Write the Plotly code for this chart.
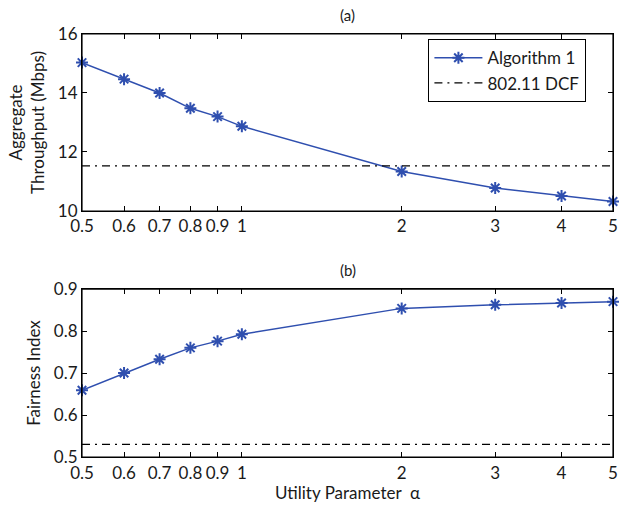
import math
import plotly.graph_objects as go

alpha = [0.5, 0.6, 0.7, 0.8, 0.9, 1, 2, 3, 4, 5]
tick_labels = ["0.5", "0.6", "0.7", "0.8", "0.9", "1", "2", "3", "4", "5"]
throughput_alg1 = [15.03, 14.47, 14.0, 13.48, 13.2, 12.87, 11.34, 10.78, 10.51, 10.32]
throughput_dcf = 11.53
fairness_alg1 = [0.659, 0.700, 0.733, 0.760, 0.776, 0.7925, 0.854, 0.8625, 0.867, 0.870]
fairness_dcf = 0.530

BLUE = "#2F4FAF"
FONT = "Lato"
TXT = "#1a1a1a"

fig = go.Figure()

marker = dict(symbol="asterisk-open", size=10, color=BLUE, line=dict(color=BLUE, width=2))

fig.add_trace(go.Scatter(x=alpha, y=throughput_alg1, mode="lines+markers", name="Algorithm 1",
                         line=dict(color=BLUE, width=1.5), marker=marker,
                         xaxis="x", yaxis="y", cliponaxis=False))
fig.add_trace(go.Scatter(x=[alpha[0], alpha[-1]], y=[throughput_dcf, throughput_dcf], mode="lines",
                         name="802.11 DCF", line=dict(color="black", width=1.2, dash="8px,5px,2px,5px"),
                         xaxis="x", yaxis="y"))
fig.add_trace(go.Scatter(x=alpha, y=fairness_alg1, mode="lines+markers", showlegend=False,
                         line=dict(color=BLUE, width=1.5), marker=marker,
                         xaxis="x2", yaxis="y2", cliponaxis=False))
fig.add_trace(go.Scatter(x=[alpha[0], alpha[-1]], y=[fairness_dcf, fairness_dcf], mode="lines",
                         showlegend=False, line=dict(color="black", width=1.2, dash="8px,5px,2px,5px"),
                         xaxis="x2", yaxis="y2"))

axis_common = dict(showline=True, linecolor="black", linewidth=1.2, mirror="ticks",
                   ticks="inside", ticklen=5, tickcolor="black", showgrid=False, zeroline=False,
                   automargin=False, tickfont=dict(family=FONT, size=17, color=TXT))

xrange = [math.log10(alpha[0]) - 1e-6, math.log10(alpha[-1]) + 1e-6]
xa = dict(type="log", range=xrange, tickvals=alpha, ticktext=tick_labels,
          ticklabeloverflow="allow", **axis_common)

fig.update_layout(
    width=619, height=508, autosize=False,
    margin=dict(l=82, r=6, t=34, b=51, autoexpand=False),
    paper_bgcolor="white", plot_bgcolor="white",
    font=dict(family=FONT, size=16, color=TXT),
    xaxis=dict(domain=[0, 1], anchor="y", **xa),
    xaxis2=dict(domain=[0, 1], anchor="y2",
                title=dict(text="Utility Parameter  α", standoff=2, font=dict(family=FONT, size=17, color=TXT)), **xa),
    yaxis=dict(domain=[0.5816, 1.0], anchor="x", range=[10, 16], tickvals=[10, 12, 14, 16],
               title=dict(text="Aggregate<br>Throughput (Mbps)", standoff=8, font=dict(family=FONT, size=17, color=TXT)),
               **axis_common),
    yaxis2=dict(domain=[0.0, 0.397], anchor="x2", range=[0.5, 0.9], tickvals=[0.5, 0.6, 0.7, 0.8, 0.9],
                ticktext=["0.5", "0.6", "0.7", "0.8", "0.9"],
                title=dict(text="Fairness Index", standoff=8, font=dict(family=FONT, size=17, color=TXT)),
                **axis_common),
    legend=dict(x=0.652, y=0.988, xanchor="left", yanchor="top", bgcolor="white",
                bordercolor="black", borderwidth=1.2, font=dict(family=FONT, size=17, color=TXT),
                tracegroupgap=0, itemwidth=48),
    annotations=[
        dict(text="(a)", xref="paper", yref="paper", x=0.5, y=1.0, yshift=8, xanchor="center",
             yanchor="bottom", showarrow=False, font=dict(family=FONT, size=15, color=TXT)),
        dict(text="(b)", xref="paper", yref="paper", x=0.5, y=0.397, yshift=8, xanchor="center",
             yanchor="bottom", showarrow=False, font=dict(family=FONT, size=15, color=TXT)),
    ],
    shapes=[
        dict(type="rect", xref="x domain", yref="y domain", x0=0, x1=1, y0=0, y1=1,
             line=dict(color="black", width=1.2), layer="above"),
        dict(type="rect", xref="x2 domain", yref="y2 domain", x0=0, x1=1, y0=0, y1=1,
             line=dict(color="black", width=1.2), layer="above"),
    ],
)

fig.write_html("out.html", config={"displayModeBar": False},
               post_script="document.body.style.margin='0';document.body.style.overflow='hidden';")
